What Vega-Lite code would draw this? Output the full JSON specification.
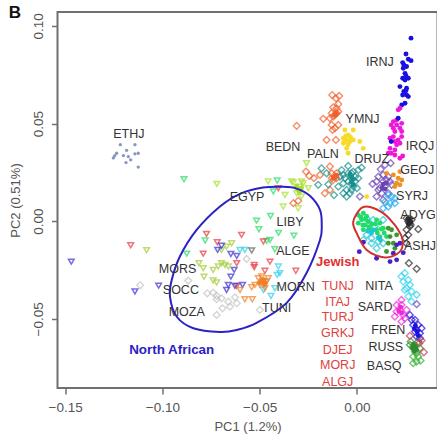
{"$schema":"https://vega.github.io/schema/vega-lite/v6.json","width":380,"height":376,"autosize":{"type":"none"},"padding":{"left":57.5,"top":12,"right":0,"bottom":54},"background":"white","config":{"view":{"stroke":"#707070","strokeWidth":2},"font":"Liberation Sans"},
"datasets":{
"ethj":[
{"g":"ETHJ","x":-0.1216,"y":0.0392},{"g":"ETHJ","x":-0.1141,"y":0.0392},{"g":"ETHJ","x":-0.1184,"y":0.0363},{"g":"ETHJ","x":-0.1235,"y":0.0348},{"g":"ETHJ","x":-0.1245,"y":0.0335},{"g":"ETHJ","x":-0.1252,"y":0.0324},{"g":"ETHJ","x":-0.1200,"y":0.0336},{"g":"ETHJ","x":-0.1175,"y":0.0331},{"g":"ETHJ","x":-0.1163,"y":0.0314},{"g":"ETHJ","x":-0.1187,"y":0.0300},{"g":"ETHJ","x":-0.1141,"y":0.0345},{"g":"ETHJ","x":-0.1124,"y":0.0348},{"g":"ETHJ","x":-0.1124,"y":0.0277}],
"dots":[
{"g":"IRNJ","x":0.0278,"y":0.0937},{"g":"IRNJ","x":0.0252,"y":0.0856},{"g":"IRNJ","x":0.0235,"y":0.0812},{"g":"IRNJ","x":0.0264,"y":0.0829},{"g":"IRNJ","x":0.0278,"y":0.0822},{"g":"IRNJ","x":0.0255,"y":0.0792},{"g":"IRNJ","x":0.0238,"y":0.0783},{"g":"IRNJ","x":0.0247,"y":0.0757},{"g":"IRNJ","x":0.0235,"y":0.0732},{"g":"IRNJ","x":0.0264,"y":0.0732},{"g":"IRNJ","x":0.0247,"y":0.0723},{"g":"IRNJ","x":0.0221,"y":0.0689},{"g":"IRNJ","x":0.0255,"y":0.0681},{"g":"IRNJ","x":0.0241,"y":0.0664},{"g":"IRNJ","x":0.0255,"y":0.0646},{"g":"IRNJ","x":0.0264,"y":0.0638},{"g":"IRNJ","x":0.0235,"y":0.0646},{"g":"IRNJ","x":0.0247,"y":0.0604},{"g":"IRNJ","x":0.0230,"y":0.0595},{"g":"IRNJ","x":0.0241,"y":0.0800},{"g":"IRNJ","x":0.0252,"y":0.0744},{"g":"IRNJ","x":0.0252,"y":0.0669},
{"g":"IRQJ","x":0.0221,"y":0.0578},{"g":"IRQJ","x":0.0212,"y":0.0570},{"g":"IRQJ","x":0.0187,"y":0.0510},{"g":"IRQJ","x":0.0176,"y":0.0493},{"g":"IRQJ","x":0.0204,"y":0.0493},{"g":"IRQJ","x":0.0230,"y":0.0501},{"g":"IRQJ","x":0.0221,"y":0.0476},{"g":"IRQJ","x":0.0187,"y":0.0476},{"g":"IRQJ","x":0.0195,"y":0.0459},{"g":"IRQJ","x":0.0230,"y":0.0459},{"g":"IRQJ","x":0.0170,"y":0.0425},{"g":"IRQJ","x":0.0187,"y":0.0433},{"g":"IRQJ","x":0.0230,"y":0.0433},{"g":"IRQJ","x":0.0195,"y":0.0408},{"g":"IRQJ","x":0.0204,"y":0.0391},{"g":"IRQJ","x":0.0221,"y":0.0399},{"g":"IRQJ","x":0.0170,"y":0.0373},{"g":"IRQJ","x":0.0195,"y":0.0365},{"g":"IRQJ","x":0.0176,"y":0.0348},{"g":"IRQJ","x":0.0161,"y":0.0348},{"g":"IRQJ","x":0.0221,"y":0.0322},{"g":"IRQJ","x":0.0235,"y":0.0334},{"g":"IRQJ","x":0.0195,"y":0.0339},{"g":"IRQJ","x":0.0204,"y":0.0518},{"g":"IRQJ","x":0.0212,"y":0.0416},{"g":"IRNJ","x":0.0212,"y":0.0527},{"g":"IRNJ","x":0.0176,"y":0.0408},
{"g":"YEMD","x":-0.0062,"y":0.0467},{"g":"YEMD","x":-0.0019,"y":0.0467},{"g":"YEMD","x":-0.0045,"y":0.0442},{"g":"YEMD","x":-0.0070,"y":0.0425},{"g":"YEMD","x":-0.0053,"y":0.0416},{"g":"YEMD","x":-0.0036,"y":0.0408},{"g":"YEMD","x":-0.0070,"y":0.0399},{"g":"YEMD","x":-0.0045,"y":0.0391},{"g":"YEMD","x":-0.0053,"y":0.0373},{"g":"YEMD","x":-0.0019,"y":0.0416},{"g":"YEMD","x":0.0015,"y":0.0408},{"g":"YEMD","x":0.0032,"y":0.0373},{"g":"YEMD","x":-0.0045,"y":0.0348},{"g":"YEMD","x":0.0050,"y":0.0126},{"g":"YEMD","x":-0.0062,"y":0.0408},{"g":"YEMD","x":-0.0033,"y":0.0430},{"g":"YEMD","x":-0.0057,"y":0.0437},
{"g":"GEOJ","x":0.0221,"y":0.0254},{"g":"GEOJ","x":0.0152,"y":0.0245},{"g":"GEOJ","x":0.0187,"y":0.0237},{"g":"GEOJ","x":0.0212,"y":0.0220},{"g":"GEOJ","x":0.0230,"y":0.0211},{"g":"GEOJ","x":0.0204,"y":0.0194},{"g":"GEOJ","x":0.0221,"y":0.0186},{"g":"GEOJ","x":0.0195,"y":0.0177},
{"g":"TUNJ","x":0.0007,"y":0.0032},{"g":"TUNJ","x":0.0033,"y":0.0041},{"g":"TUNJ","x":0.0050,"y":0.0024},{"g":"TUNJ","x":0.0024,"y":0.0007},{"g":"TUNJ","x":0.0007,"y":-0.0010},{"g":"TUNJ","x":0.0041,"y":-0.0019},{"g":"TUNJ","x":0.0033,"y":-0.0044},{"g":"TUNJ","x":0.0058,"y":-0.0002},{"g":"TUNJ","x":0.0066,"y":-0.0044},{"g":"TUNJ","x":0.0101,"y":-0.0044},{"g":"TUNJ","x":0.0118,"y":-0.0010},{"g":"TUNJ","x":0.0135,"y":-0.0036},{"g":"TUNJ","x":0.0118,"y":-0.0079},{"g":"TUNJ","x":0.0152,"y":-0.0079},{"g":"TUNJ","x":0.0101,"y":0.0007},{"g":"TUNJ","x":0.0045,"y":0.0010},{"g":"TUNJ","x":0.0030,"y":-0.0020},{"g":"TUNJ","x":0.0060,"y":-0.0030},{"g":"TUNJ","x":0.0105,"y":-0.0060},{"g":"TUNJ","x":0.0125,"y":-0.0040},{"g":"TUNJ","x":0.0020,"y":0.0020},{"g":"TUNJ","x":0.0095,"y":-0.0015},{"g":"TUNJ","x":0.0075,"y":-0.0015},{"g":"TUNJ","x":0.0140,"y":-0.0060},
{"g":"ITAJ","x":0.0075,"y":-0.0060},{"g":"ITAJ","x":0.0085,"y":-0.0045},{"g":"ITAJ","x":0.0055,"y":-0.0050},{"g":"ITAJ","x":0.0110,"y":-0.0085},{"g":"ITAJ","x":0.0120,"y":-0.0095},
{"g":"TURJ","x":0.0161,"y":-0.0036},{"g":"TURJ","x":0.0178,"y":-0.0044},{"g":"TURJ","x":0.0170,"y":-0.0079},{"g":"TURJ","x":0.0187,"y":-0.0113},{"g":"TURJ","x":0.0161,"y":-0.0113},{"g":"TURJ","x":0.0195,"y":-0.0139},{"g":"TURJ","x":0.0152,"y":-0.0155},{"g":"TURJ","x":0.0204,"y":-0.0070},
{"g":"ASHJ","x":0.0033,"y":-0.0108},{"g":"ASHJ","x":0.0012,"y":-0.0156},{"g":"ASHJ","x":0.0101,"y":-0.0190},{"g":"ASHJ","x":0.0170,"y":-0.0207},{"g":"ASHJ","x":0.0204,"y":-0.0198},{"g":"ASHJ","x":0.0238,"y":-0.0161},{"g":"ASHJ","x":0.0204,"y":-0.0121},{"g":"ASHJ","x":0.0221,"y":-0.0113},{"g":"ASHJ","x":0.0187,"y":-0.0164},
{"g":"BEDN","x":-0.0113,"y":0.0544},{"g":"BEDN","x":-0.0105,"y":0.0553},{"g":"BEDN","x":-0.0113,"y":0.0228},{"g":"BEDN","x":-0.0122,"y":0.0220},{"g":"BEDN","x":-0.0105,"y":0.0235},
{"g":"PALN","x":-0.0028,"y":0.0225},{"g":"PALN","x":-0.0028,"y":0.0200},{"g":"PALN","x":-0.0019,"y":0.0185},{"g":"PALN","x":-0.0036,"y":0.0240},{"g":"PALN","x":-0.0020,"y":0.0215},
{"g":"ADYG","x":0.0268,"y":0.0005},{"g":"ADYG","x":0.0272,"y":-0.0008},{"g":"ADYG","x":0.0262,"y":0.0010},{"g":"ADYG","x":0.0276,"y":-0.0002},{"g":"ADYG","x":0.0265,"y":-0.0015},
{"g":"EGYP","x":-0.0302,"y":0.0165},{"g":"EGYP","x":-0.0295,"y":0.0150},{"g":"EGYP","x":-0.0285,"y":0.0170},{"g":"EGYP","x":-0.0310,"y":0.0180},
{"g":"TUNI","x":-0.0490,"y":-0.0305},{"g":"TUNI","x":-0.0480,"y":-0.0300},{"g":"TUNI","x":-0.0470,"y":-0.0315},{"g":"TUNI","x":-0.0500,"y":-0.0315},{"g":"TUNI","x":-0.0475,"y":-0.0325},
{"g":"FREN","x":0.0300,"y":-0.0535},{"g":"FREN","x":0.0310,"y":-0.0565},{"g":"FREN","x":0.0315,"y":-0.0585},{"g":"FREN","x":0.0295,"y":-0.0550},
{"g":"RUSS","x":0.0290,"y":-0.0630},{"g":"RUSS","x":0.0300,"y":-0.0640},{"g":"RUSS","x":0.0305,"y":-0.0655},{"g":"RUSS","x":0.0285,"y":-0.0650},{"g":"RUSS","x":0.0295,"y":-0.0665},
{"g":"SARD","x":0.0225,"y":-0.0440},{"g":"SARD","x":0.0215,"y":-0.0460},{"g":"SARD","x":0.0230,"y":-0.0470},
{"g":"DRUZ","x":0.0135,"y":0.0190},{"g":"DRUZ","x":0.0145,"y":0.0165},{"g":"DRUZ","x":0.0130,"y":0.0170},{"g":"DRUZ","x":0.0150,"y":0.0195}],
"diamonds":[
{"g":"YMNJ","x":-0.0127,"y":0.0646},{"g":"YMNJ","x":-0.0091,"y":0.0641},{"g":"YMNJ","x":-0.0108,"y":0.0629},{"g":"YMNJ","x":-0.0096,"y":0.0600},{"g":"YMNJ","x":-0.0122,"y":0.0583},{"g":"YMNJ","x":-0.0105,"y":0.0578},{"g":"YMNJ","x":-0.0096,"y":0.0561},{"g":"YMNJ","x":-0.0130,"y":0.0553},{"g":"YMNJ","x":-0.0113,"y":0.0544},{"g":"YMNJ","x":-0.0122,"y":0.0536},{"g":"YMNJ","x":-0.0105,"y":0.0553},{"g":"YMNJ","x":-0.0139,"y":0.0527},{"g":"YMNJ","x":-0.0173,"y":0.0524},{"g":"YMNJ","x":-0.0130,"y":0.0493},{"g":"YMNJ","x":-0.0096,"y":0.0493},{"g":"YMNJ","x":-0.0113,"y":0.0476},{"g":"YMNJ","x":-0.0125,"y":0.0467},{"g":"YMNJ","x":-0.0156,"y":0.0416},{"g":"YMNJ","x":-0.0108,"y":0.0416},{"g":"YMNJ","x":-0.0310,"y":0.0488},
{"g":"BEDN","x":-0.0262,"y":0.0254},{"g":"BEDN","x":-0.0245,"y":0.0232},{"g":"BEDN","x":-0.0221,"y":0.0220},{"g":"BEDN","x":-0.0190,"y":0.0237},{"g":"BEDN","x":-0.0139,"y":0.0280},{"g":"BEDN","x":-0.0130,"y":0.0245},{"g":"BEDN","x":-0.0113,"y":0.0228},{"g":"BEDN","x":-0.0122,"y":0.0211},{"g":"BEDN","x":-0.0105,"y":0.0245},{"g":"BEDN","x":-0.0130,"y":0.0220},{"g":"BEDN","x":-0.0105,"y":0.0220},{"g":"BEDN","x":-0.0139,"y":0.0160},{"g":"BEDN","x":-0.0165,"y":0.0143},{"g":"BEDN","x":-0.0327,"y":0.0092},{"g":"BEDN","x":-0.0302,"y":0.0104},
{"g":"PALN","x":-0.0182,"y":0.0271},{"g":"PALN","x":-0.0079,"y":0.0262},{"g":"PALN","x":-0.0045,"y":0.0283},{"g":"PALN","x":0.0024,"y":0.0274},{"g":"PALN","x":0.0007,"y":0.0262},{"g":"PALN","x":-0.0019,"y":0.0254},{"g":"PALN","x":-0.0045,"y":0.0245},{"g":"PALN","x":-0.0070,"y":0.0237},{"g":"PALN","x":-0.0087,"y":0.0228},{"g":"PALN","x":0.0007,"y":0.0220},{"g":"PALN","x":-0.0028,"y":0.0220},{"g":"PALN","x":-0.0010,"y":0.0203},{"g":"PALN","x":-0.0045,"y":0.0203},{"g":"PALN","x":-0.0070,"y":0.0194},{"g":"PALN","x":-0.0096,"y":0.0177},{"g":"PALN","x":-0.0019,"y":0.0177},{"g":"PALN","x":-0.0053,"y":0.0160},{"g":"PALN","x":0.0000,"y":0.0169},{"g":"PALN","x":-0.0036,"y":0.0143},{"g":"PALN","x":-0.0070,"y":0.0143},{"g":"PALN","x":-0.0053,"y":0.0126},{"g":"PALN","x":-0.0118,"y":0.0134},{"g":"PALN","x":-0.0147,"y":0.0189},{"g":"PALN","x":-0.0199,"y":0.0186},{"g":"PALN","x":-0.0156,"y":0.0245},{"g":"PALN","x":-0.0028,"y":0.0245},{"g":"PALN","x":-0.0010,"y":0.0228},{"g":"PALN","x":-0.0028,"y":0.0194},{"g":"PALN","x":-0.0028,"y":0.0160},{"g":"PALN","x":-0.0062,"y":0.0220},
{"g":"DRUZ","x":0.0144,"y":0.0288},{"g":"DRUZ","x":0.0173,"y":0.0297},{"g":"DRUZ","x":0.0122,"y":0.0266},{"g":"DRUZ","x":0.0135,"y":0.0237},{"g":"DRUZ","x":0.0110,"y":0.0228},{"g":"DRUZ","x":0.0161,"y":0.0228},{"g":"DRUZ","x":0.0080,"y":0.0191},{"g":"DRUZ","x":0.0101,"y":0.0203},{"g":"DRUZ","x":0.0135,"y":0.0203},{"g":"DRUZ","x":0.0170,"y":0.0203},{"g":"DRUZ","x":0.0110,"y":0.0160},{"g":"DRUZ","x":0.0144,"y":0.0177},{"g":"DRUZ","x":0.0178,"y":0.0186},{"g":"DRUZ","x":0.0101,"y":0.0126},{"g":"DRUZ","x":0.0135,"y":0.0109},{"g":"DRUZ","x":0.0161,"y":0.0143},{"g":"DRUZ","x":0.0015,"y":0.0126},{"g":"DRUZ","x":0.0118,"y":0.0169},{"g":"DRUZ","x":0.0152,"y":0.0211},{"g":"DRUZ","x":0.0127,"y":0.0143},
{"g":"SYRJ","x":0.0161,"y":0.0134},{"g":"SYRJ","x":0.0178,"y":0.0126},{"g":"SYRJ","x":0.0195,"y":0.0117},{"g":"SYRJ","x":0.0144,"y":0.0100},{"g":"SYRJ","x":0.0170,"y":0.0092},{"g":"SYRJ","x":0.0195,"y":0.0092},{"g":"SYRJ","x":0.0135,"y":0.0066},{"g":"SYRJ","x":0.0161,"y":0.0075},
{"g":"ADYG","x":0.0264,"y":-0.0002},{"g":"ADYG","x":0.0276,"y":-0.0019},{"g":"ADYG","x":0.0255,"y":0.0015},{"g":"ADYG","x":0.0281,"y":0.0007},{"g":"ADYG","x":0.0272,"y":-0.0027},{"g":"ADYG","x":0.0315,"y":-0.0041},{"g":"ADYG","x":0.0255,"y":-0.0044},{"g":"ADYG","x":0.0264,"y":-0.0070},{"g":"ADYG","x":0.0247,"y":-0.0087},{"g":"ADYG","x":0.0255,"y":-0.0113},{"g":"ADYG","x":0.0267,"y":-0.0215},{"g":"ADYG","x":0.0307,"y":-0.0244},{"g":"ADYG","x":0.0268,"y":0.0012},{"g":"ADYG","x":0.0270,"y":-0.0010},
{"g":"NITA","x":0.0229,"y":-0.0283},{"g":"NITA","x":0.0246,"y":-0.0266},{"g":"NITA","x":0.0238,"y":-0.0309},{"g":"NITA","x":0.0264,"y":-0.0301},{"g":"NITA","x":0.0272,"y":-0.0326},{"g":"NITA","x":0.0255,"y":-0.0343},{"g":"NITA","x":0.0281,"y":-0.0360},{"g":"NITA","x":0.0307,"y":-0.0377},{"g":"NITA","x":0.0264,"y":-0.0386},{"g":"NITA","x":0.0281,"y":-0.0412},{"g":"NITA","x":0.0246,"y":-0.0352},
{"g":"DRUZ","x":0.0307,"y":-0.0425},
{"g":"SARD","x":0.0229,"y":-0.0403},{"g":"SARD","x":0.0204,"y":-0.0429},{"g":"SARD","x":0.0229,"y":-0.0429},{"g":"SARD","x":0.0221,"y":-0.0454},{"g":"SARD","x":0.0195,"y":-0.0488},{"g":"SARD","x":0.0238,"y":-0.0480},{"g":"SARD","x":0.0229,"y":-0.0514},{"g":"SARD","x":0.0246,"y":-0.0497},{"g":"SARD","x":0.0204,"y":-0.0463},{"g":"SARD","x":0.0255,"y":-0.0454},
{"g":"FREN","x":0.0272,"y":-0.0480},{"g":"FREN","x":0.0298,"y":-0.0505},{"g":"FREN","x":0.0315,"y":-0.0531},{"g":"FREN","x":0.0332,"y":-0.0548},{"g":"FREN","x":0.0289,"y":-0.0531},{"g":"FREN","x":0.0307,"y":-0.0557},{"g":"FREN","x":0.0324,"y":-0.0574},{"g":"FREN","x":0.0307,"y":-0.0591},{"g":"FREN","x":0.0281,"y":-0.0505},{"g":"FREN","x":0.0324,"y":-0.0599},{"g":"FREN","x":0.0298,"y":-0.0565},
{"g":"RUSS","x":0.0276,"y":-0.0616},{"g":"RUSS","x":0.0289,"y":-0.0642},{"g":"RUSS","x":0.0315,"y":-0.0616},{"g":"RUSS","x":0.0272,"y":-0.0633},{"g":"RUSS","x":0.0298,"y":-0.0659},{"g":"RUSS","x":0.0307,"y":-0.0676},{"g":"RUSS","x":0.0324,"y":-0.0650},
{"g":"ORCA","x":0.0332,"y":-0.0611},{"g":"ORCA","x":0.0344,"y":-0.0671},{"g":"ORCA","x":0.0320,"y":-0.0625},{"g":"ORCA","x":0.0272,"y":-0.0587},
{"g":"BASQ","x":0.0289,"y":-0.0693},{"g":"BASQ","x":0.0307,"y":-0.0719},{"g":"BASQ","x":0.0327,"y":-0.0714},{"g":"BASQ","x":0.0289,"y":-0.0727},{"g":"BASQ","x":0.0315,"y":-0.0693},{"g":"BASQ","x":0.0298,"y":-0.0668},
{"g":"ITAJ","x":0.0050,"y":-0.0070},{"g":"ITAJ","x":0.0075,"y":-0.0087},{"g":"ITAJ","x":0.0092,"y":-0.0027},{"g":"ITAJ","x":0.0066,"y":-0.0019},{"g":"ITAJ","x":0.0084,"y":0.0007},{"g":"ITAJ","x":0.0110,"y":-0.0104},{"g":"ITAJ","x":0.0135,"y":-0.0113},{"g":"ITAJ","x":0.0135,"y":0.0007},{"g":"ITAJ","x":0.0075,"y":-0.0113},{"g":"ITAJ","x":0.0033,"y":-0.0096},{"g":"ITAJ","x":0.0050,"y":0.0015},{"g":"ITAJ","x":0.0101,"y":-0.0139},
{"g":"MOZA","x":-0.1114,"y":-0.0328},{"g":"MOZA","x":-0.0867,"y":-0.0304},{"g":"MOZA","x":-0.0769,"y":-0.0369},{"g":"MOZA","x":-0.0739,"y":-0.0366},{"g":"MOZA","x":-0.0721,"y":-0.0382},{"g":"MOZA","x":-0.0721,"y":-0.0399},{"g":"MOZA","x":-0.0721,"y":-0.0480},{"g":"MOZA","x":-0.0567,"y":-0.0193},{"g":"MOZA","x":-0.0696,"y":-0.0395},{"g":"MOZA","x":-0.0691,"y":-0.0446},{"g":"MOZA","x":-0.0661,"y":-0.0412},{"g":"MOZA","x":-0.0653,"y":-0.0437},{"g":"MOZA","x":-0.0627,"y":-0.0390},{"g":"MOZA","x":-0.0618,"y":-0.0420},{"g":"MOZA","x":-0.0499,"y":-0.0454}],
"triangles":[
{"g":"EGYP","x":-0.0456,"y":0.0203},{"g":"EGYP","x":-0.0327,"y":0.0198},{"g":"EGYP","x":-0.0285,"y":0.0203},{"g":"EGYP","x":-0.0259,"y":0.0297},{"g":"EGYP","x":-0.0250,"y":0.0169},{"g":"EGYP","x":-0.0293,"y":0.0177},{"g":"EGYP","x":-0.0276,"y":0.0194},{"g":"EGYP","x":-0.0310,"y":0.0143},{"g":"EGYP","x":-0.0370,"y":0.0134},{"g":"EGYP","x":-0.0379,"y":0.0075},{"g":"EGYP","x":-0.0302,"y":0.0066},{"g":"EGYP","x":-0.0285,"y":0.0126},{"g":"EGYP","x":-0.0302,"y":0.0152},{"g":"EGYP","x":-0.0336,"y":0.0203},{"g":"EGYP","x":-0.0720,"y":0.0191},
{"g":"LIBY","x":-0.0410,"y":0.0208},{"g":"LIBY","x":-0.0430,"y":0.0152},{"g":"LIBY","x":-0.0889,"y":0.0215},{"g":"LIBY","x":-0.0875,"y":-0.0166},{"g":"LIBY","x":-0.0780,"y":-0.0099},{"g":"LIBY","x":-0.0516,"y":0.0003},{"g":"LIBY","x":-0.0444,"y":0.0027},{"g":"LIBY","x":-0.0504,"y":-0.0041},{"g":"LIBY","x":-0.0403,"y":-0.0060},{"g":"LIBY","x":-0.0324,"y":-0.0074},{"g":"LIBY","x":-0.0447,"y":-0.0096},{"g":"LIBY","x":-0.0464,"y":-0.0101},{"g":"LIBY","x":-0.0422,"y":-0.0144},
{"g":"ALGE","x":-0.0404,"y":0.0169},{"g":"ALGE","x":-0.1163,"y":-0.0123},{"g":"ALGE","x":-0.0790,"y":-0.0166},{"g":"ALGE","x":-0.0773,"y":-0.0065},{"g":"ALGE","x":-0.0718,"y":-0.0108},{"g":"ALGE","x":-0.0593,"y":-0.0070},{"g":"ALGE","x":-0.0481,"y":-0.0104},{"g":"ALGE","x":-0.0447,"y":-0.0207},{"g":"ALGE","x":-0.0528,"y":-0.0224},{"g":"ALGE","x":-0.0528,"y":-0.0236},{"g":"ALGE","x":-0.0618,"y":-0.0215},{"g":"ALGE","x":-0.0314,"y":-0.0254},{"g":"ALGE","x":-0.0618,"y":-0.0331},{"g":"ALGE","x":-0.0473,"y":-0.0254},
{"g":"SOCC","x":-0.1081,"y":-0.0148},{"g":"SOCC","x":-0.0812,"y":-0.0215},{"g":"SOCC","x":-0.0790,"y":-0.0241},{"g":"SOCC","x":-0.0739,"y":-0.0249},{"g":"SOCC","x":-0.0713,"y":-0.0232},{"g":"SOCC","x":-0.0786,"y":-0.0284},{"g":"SOCC","x":-0.0739,"y":-0.0304},{"g":"SOCC","x":-0.0721,"y":-0.0314},{"g":"SOCC","x":-0.0644,"y":-0.0113},{"g":"SOCC","x":-0.0670,"y":-0.0130},{"g":"SOCC","x":-0.0696,"y":-0.0147},{"g":"SOCC","x":-0.0678,"y":-0.0224},{"g":"SOCC","x":-0.0696,"y":-0.0215},{"g":"SOCC","x":-0.0661,"y":-0.0232},
{"g":"MORS","x":-0.1468,"y":-0.0207},{"g":"MORS","x":-0.1141,"y":-0.0360},{"g":"MORS","x":-0.1019,"y":-0.0330},{"g":"MORS","x":-0.0716,"y":-0.0147},{"g":"MORS","x":-0.0696,"y":-0.0126},{"g":"MORS","x":-0.0648,"y":-0.0168},{"g":"MORS","x":-0.0618,"y":-0.0178},{"g":"MORS","x":-0.0631,"y":-0.0249},{"g":"MORS","x":-0.0648,"y":-0.0284},{"g":"MORS","x":-0.0588,"y":-0.0326},{"g":"MORS","x":-0.0627,"y":-0.0331},{"g":"MORS","x":-0.0670,"y":-0.0352},{"g":"MORS","x":-0.0661,"y":-0.0326},
{"g":"MORN","x":-0.0601,"y":-0.0147},{"g":"MORN","x":-0.0576,"y":-0.0147},{"g":"MORN","x":-0.0404,"y":-0.0232},{"g":"MORN","x":-0.0396,"y":-0.0266},{"g":"MORN","x":-0.0410,"y":-0.0275},{"g":"MORN","x":-0.0481,"y":-0.0352},{"g":"MORN","x":-0.0422,"y":-0.0343},{"g":"MORN","x":-0.0442,"y":-0.0383},
{"g":"TUNS","x":-0.0541,"y":-0.0150},
{"g":"TUNI","x":-0.0541,"y":-0.0338},{"g":"TUNI","x":-0.0524,"y":-0.0326},{"g":"TUNI","x":-0.0507,"y":-0.0292},{"g":"TUNI","x":-0.0490,"y":-0.0283},{"g":"TUNI","x":-0.0481,"y":-0.0309},{"g":"TUNI","x":-0.0464,"y":-0.0309},{"g":"TUNI","x":-0.0456,"y":-0.0292},{"g":"TUNI","x":-0.0499,"y":-0.0326},{"g":"TUNI","x":-0.0473,"y":-0.0343},{"g":"TUNI","x":-0.0576,"y":-0.0400},{"g":"TUNI","x":-0.0538,"y":-0.0400},{"g":"TUNI","x":-0.0601,"y":-0.0352}],
"rings":[
{"g":"North African","o":1,"x":-0.0379,"y":0.0176},{"g":"North African","o":2,"x":-0.0310,"y":0.0167},{"g":"North African","o":3,"x":-0.0242,"y":0.0130},{"g":"North African","o":4,"x":-0.0190,"y":0.0058},{"g":"North African","o":5,"x":-0.0181,"y":-0.0019},{"g":"North African","o":6,"x":-0.0190,"y":-0.0096},{"g":"North African","o":7,"x":-0.0259,"y":-0.0265},{"g":"North African","o":8,"x":-0.0361,"y":-0.0418},{"g":"North African","o":9,"x":-0.0516,"y":-0.0521},{"g":"North African","o":10,"x":-0.0618,"y":-0.0557},{"g":"North African","o":11,"x":-0.0704,"y":-0.0567},{"g":"North African","o":12,"x":-0.0841,"y":-0.0548},{"g":"North African","o":13,"x":-0.0927,"y":-0.0488},{"g":"North African","o":14,"x":-0.0961,"y":-0.0386},{"g":"North African","o":15,"x":-0.0952,"y":-0.0301},{"g":"North African","o":16,"x":-0.0910,"y":-0.0181},{"g":"North African","o":17,"x":-0.0824,"y":-0.0045},{"g":"North African","o":18,"x":-0.0704,"y":0.0075},{"g":"North African","o":19,"x":-0.0601,"y":0.0140},{"g":"North African","o":20,"x":-0.0483,"y":0.0172},
{"g":"Jewish","o":1,"x":0.0067,"y":0.0073},{"g":"Jewish","o":2,"x":0.0135,"y":0.0041},{"g":"Jewish","o":3,"x":0.0187,"y":-0.0010},{"g":"Jewish","o":4,"x":0.0212,"y":-0.0045},{"g":"Jewish","o":5,"x":0.0235,"y":-0.0096},{"g":"Jewish","o":6,"x":0.0221,"y":-0.0156},{"g":"Jewish","o":7,"x":0.0144,"y":-0.0186},{"g":"Jewish","o":8,"x":0.0050,"y":-0.0147},{"g":"Jewish","o":9,"x":-0.0002,"y":-0.0060},{"g":"Jewish","o":10,"x":-0.0019,"y":-0.0002},{"g":"Jewish","o":11,"x":0.0021,"y":0.0066}],
"pops":[
{"t":"ETHJ","x":-0.1172,"y":0.0447},{"t":"IRNJ","x":0.0118,"y":0.0816},{"t":"YMNJ","x":0.0029,"y":0.0524},{"t":"BEDN","x":-0.0380,"y":0.0380},{"t":"PALN","x":-0.0175,"y":0.0345},{"t":"DRUZ","x":0.0076,"y":0.0319},{"t":"IRQJ","x":0.0324,"y":0.0386},{"t":"GEOJ","x":0.0310,"y":0.0263},{"t":"SYRJ","x":0.0283,"y":0.0130},{"t":"ADYG","x":0.0314,"y":0.0032},{"t":"ASHJ","x":0.0324,"y":-0.0126},{"t":"EGYP","x":-0.0565,"y":0.0124},{"t":"LIBY","x":-0.0344,"y":-0.0002},{"t":"ALGE","x":-0.0329,"y":-0.0151},{"t":"MORS","x":-0.0922,"y":-0.0244},{"t":"SOCC","x":-0.0905,"y":-0.0352},{"t":"MOZA","x":-0.0875,"y":-0.0463},{"t":"MORN","x":-0.0315,"y":-0.0336},{"t":"TUNI","x":-0.0413,"y":-0.0444},{"t":"NITA","x":0.0113,"y":-0.0330},{"t":"SARD","x":0.0093,"y":-0.0437},{"t":"FREN","x":0.0161,"y":-0.0557},{"t":"RUSS","x":0.0148,"y":-0.0644},{"t":"BASQ","x":0.0140,"y":-0.0739}],
"jews":[{"t":"TUNJ","x":-0.0099,"y":-0.0330},{"t":"ITAJ","x":-0.0099,"y":-0.0412},{"t":"TURJ","x":-0.0099,"y":-0.0492},{"t":"GRKJ","x":-0.0099,"y":-0.0573},{"t":"DJEJ","x":-0.0099,"y":-0.0657},{"t":"MORJ","x":-0.0099,"y":-0.0737},{"t":"ALGJ","x":-0.0099,"y":-0.0821}]
},
"encoding":{
"x":{"field":"x","type":"quantitative","scale":{"domain":[-0.1539,0.0414],"nice":false,"zero":false},"axis":{"values":[-0.15,-0.1,-0.05,0],"format":".2f","title":"PC1 (1.2%)","grid":false,"domain":false,"tickColor":"#707070","tickSize":6,"tickWidth":1.5,"labelFontSize":13.5,"labelColor":"#555555","labelPadding":6,"titleFontSize":13,"titleColor":"#555555","titleFontWeight":"normal","titlePadding":7}},
"y":{"field":"y","type":"quantitative","scale":{"domain":[-0.0854,0.1071],"nice":false,"zero":false},"axis":{"values":[-0.05,0,0.05,0.1],"format":".2f","title":"PC2 (0.51%)","grid":false,"domain":false,"tickColor":"#707070","tickSize":6,"tickWidth":1.5,"labelFontSize":13.5,"labelColor":"#555555","labelAngle":-90,"labelAlign":"center","labelBaseline":"bottom","labelPadding":6,"titleFontSize":13,"titleColor":"#555555","titleFontWeight":"normal","titlePadding":9}},
"color":{"field":"g","type":"nominal","legend":null,"scale":{"domain":["ETHJ","IRNJ","IRQJ","YEMD","GEOJ","TUNJ","TURJ","ASHJ","YMNJ","BEDN","PALN","DRUZ","SYRJ","ADYG","NITA","SARD","FREN","RUSS","ORCA","BASQ","ITAJ","MOZA","EGYP","LIBY","ALGE","SOCC","MORS","MORN","TUNS","TUNI","North African","Jewish"],"range":["#8496c2","#1a10e0","#f018d8","#f8da28","#f09020","#20dc68","#3c9a30","#4a20c0","#f0602c","#f0602c","#16908e","#6a44b4","#20a8f0","#2a2a2a","#30d4f0","#f028d8","#2010e0","#2e8c2c","#c83a50","#38b038","#20c4d8","#c4c4c4","#a8e030","#28dc68","#e83a42","#a4cc38","#3a30d0","#30d0e8","#606060","#f08028","#2a22c4","#d03030"]}}
},
"layer":[
{"data":{"name":"triangles"},"mark":{"type":"point","shape":"triangle-down","filled":false,"size":32,"strokeWidth":1.5}},
{"data":{"name":"diamonds"},"mark":{"type":"point","shape":"diamond","filled":false,"size":46,"strokeWidth":1.4}},
{"data":{"name":"ethj"},"mark":{"type":"circle","size":11,"opacity":1}},
{"data":{"name":"dots"},"mark":{"type":"circle","size":24,"opacity":1}},
{"data":{"name":"rings"},"mark":{"type":"line","interpolate":"cardinal-closed","strokeWidth":2},"encoding":{"order":{"field":"o","type":"quantitative"}}},
{"data":{"name":"pops"},"mark":{"type":"text","fontSize":12.5,"align":"center","baseline":"middle"},"encoding":{"text":{"field":"t"},"color":{"value":"#333333"}}},
{"data":{"name":"jews"},"mark":{"type":"text","fontSize":12.5,"align":"center","baseline":"middle"},"encoding":{"text":{"field":"t"},"color":{"value":"#e04040"}}},
{"data":{"values":[{"t":"Jewish","x":-0.0099,"y":-0.0208}]},"mark":{"type":"text","fontSize":13,"fontWeight":"bold","align":"center","baseline":"middle"},"encoding":{"text":{"field":"t"},"color":{"value":"#e03030"}}},
{"data":{"values":[{"t":"North African","x":-0.0952,"y":-0.0659}]},"mark":{"type":"text","fontSize":13.4,"fontWeight":"bold","align":"center","baseline":"middle"},"encoding":{"text":{"field":"t"},"color":{"value":"#2a22c4"}}},
{"data":{"values":[{"t":"B","x":-0.1758,"y":0.1065}]},"mark":{"type":"text","fontSize":17,"fontWeight":"bold","align":"center","baseline":"middle"},"encoding":{"text":{"field":"t"},"color":{"value":"#111111"}}}
]}
